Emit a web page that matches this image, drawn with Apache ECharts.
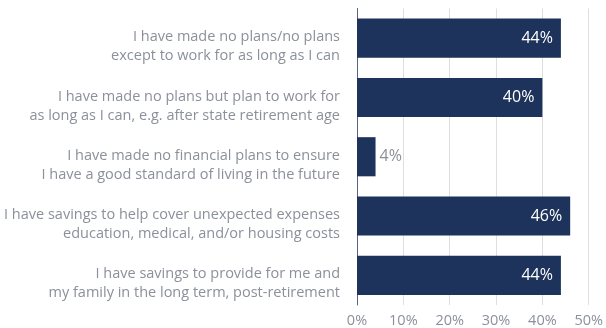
<!DOCTYPE html>
<html>
<head>
<meta charset="utf-8">
<script src="https://cdn.jsdelivr.net/npm/echarts@6/dist/echarts.min.js"></script>
<style>
  html, body { margin: 0; padding: 0; background: #fff; }
  #chart { width: 606px; height: 328px; }
</style>
</head>
<body>
<div id="chart"></div>
<script>
// Survey answers, top to bottom
const categories = [
  'I have made no plans/no plans\nexcept to work for as long as I can',
  'I have made no plans but plan to work for\nas long as I can, e.g. after state retirement age',
  'I have made no financial plans to ensure\nI have a good standard of living in the future',
  'I have savings to help cover unexpected expenses\neducation, medical, and/or housing costs',
  'I have savings to provide for me and\nmy family in the long term, post-retirement'
];
// Share of respondents (%)
const values = [44, 40, 4, 46, 44];
// Bars narrower than this carry their label outside
const insideThreshold = 10;

const navy = '#1d335b';
const grey = '#8b909a';

// Category text sits a little below the bar centre: a short blank
// line is put above the two text lines to push the block down.
function categoryLabel(text) {
  return '{gap| }\n' + text.split('\n').map(l => '{t|' + l + '}').join('\n');
}

const chart = echarts.init(document.getElementById('chart'));
chart.setOption({
  animation: false,
  grid: { left: 357, right: 17, top: 8.5, bottom: 23, containLabel: false },
  xAxis: {
    type: 'value',
    min: 0,
    max: 50,
    interval: 10,
    axisLine: { show: false },
    axisTick: { show: false },
    splitLine: { show: true, lineStyle: { color: '#dedede', width: 1 } },
    axisLabel: {
      formatter: '{value}%',
      color: grey,
      fontFamily: 'Open Sans',
      fontSize: 14.5,
      margin: 8
    }
  },
  yAxis: {
    type: 'category',
    data: categories,
    inverse: true,
    axisLine: { show: true, lineStyle: { color: '#56657f', width: 1 } },
    axisTick: { show: false },
    axisLabel: {
      interval: 0,
      align: 'right',
      margin: 17,
      formatter: categoryLabel,
      rich: {
        gap: { fontSize: 10, lineHeight: 17, color: grey },
        t: {
          color: grey,
          fontFamily: 'Open Sans',
          fontSize: 14.5,
          lineHeight: 19,
          align: 'right'
        }
      }
    }
  },
  series: [{
    type: 'bar',
    data: values.map(v => ({
      value: v,
      label: v < insideThreshold
        ? { position: 'right', distance: 4, color: grey }
        : { position: 'insideRight', distance: 8, color: '#ffffff' }
    })),
    barWidth: '66%',
    itemStyle: { color: navy },
    label: {
      show: true,
      formatter: '{c}%',
      fontFamily: 'Open Sans',
      fontSize: 16
    }
  }]
});
</script>
</body>
</html>
